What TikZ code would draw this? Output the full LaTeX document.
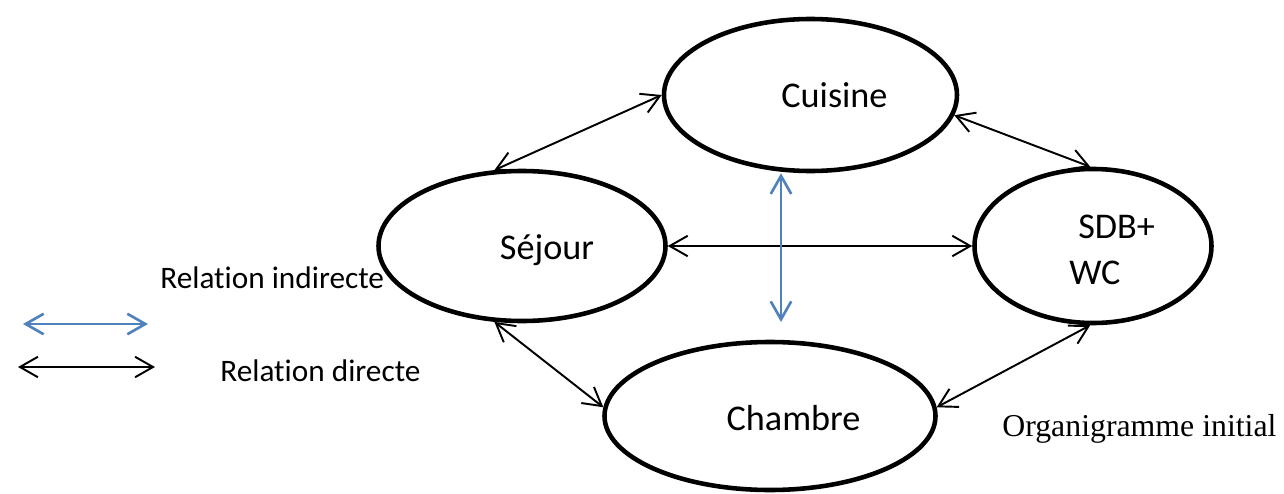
\documentclass[tikz,border=0pt]{standalone}
\usepackage{fontspec}
\setmainfont{Carlito}[RawFeature={-liga;-clig;-calt}]
\newfontfamily\capfont{Liberation Serif}
\usepackage{tikz}
\usetikzlibrary{shapes.geometric,arrows.meta}
\definecolor{ink}{HTML}{000000}
\definecolor{steel}{HTML}{4F81BD}
\tikzset{
  >={Straight Barb[length=3.6mm,width=4.1mm]},
  room/.style ={ellipse, draw=ink, line width=2.6pt, inner sep=0pt},
  rtxt/.style ={font=\fontsize{20.6}{25}\selectfont, inner sep=0pt, anchor=base},
  ltxt/.style ={font=\fontsize{17.8}{21}\selectfont, inner sep=0pt, anchor=base west},
  dir/.style  ={draw=ink,   line width=1.1pt, <->},
  ind/.style  ={draw=steel, line width=1.5pt, <->},
}

\begin{document}
\begin{tikzpicture}
    \useasboundingbox (0,0) rectangle (25.68,9.86);

    % pieces
    \node[room,minimum width=5.86cm,minimum height=3.04cm] (cui) at (16.21,7.96) {};
    \node[room,minimum width=5.74cm,minimum height=3.00cm] (sej) at (10.44,4.94) {};
    \node[room,minimum width=4.74cm,minimum height=3.08cm] (sdb) at (21.86,4.94) {};
    \node[room,minimum width=6.62cm,minimum height=2.96cm] (chb) at (15.40,1.54) {};

    \node[rtxt] (cui-t) at (16.69,7.72) {Cuisine};
    \node[rtxt] (sej-t) at (10.94,4.67) {Séjour};
    \node[rtxt] (chb-t) at (15.87,1.25) {Chambre};
    \node[rtxt,anchor=base west] (sdb-t) at (21.56,5.10) {SDB+};
    \node[rtxt,anchor=base west] (wc-t)  at (21.38,4.18) {WC};

    % liaisons
    \draw[dir] (sej.110) -- (cui.west);
    \draw[dir] (cui.-8) -- (sdb.92);
    \draw[dir] (sej.east) -- (sdb.west);
    \draw[dir] (sej.250) -- (chb.177);
    \draw[dir] (chb.3) -- (sdb.268);
    \coordinate (ind-end) at (15.62,3.42);
    \draw[ind] (cui.south -| ind-end) -- (ind-end);

    % legende
    \coordinate (li-a) at (0.46,3.38);
    \coordinate (li-b) at (2.96,3.38);
    \coordinate (ld-a) at (0.36,2.52);
    \coordinate (ld-b) at (3.10,2.52);
    \draw[ind] (li-a) -- (li-b);
    \draw[dir] (ld-a) -- (ld-b);
    \node[ltxt] (li-t) at (3.20,4.10) {Relation indirecte};
    \node[ltxt] (ld-t) at (4.40,2.23) {Relation directe};
    \node[ltxt,font=\capfont\fontsize{18.1}{21}\selectfont] (org-t) at (20.04,1.14) {Organigramme initial};
\end{tikzpicture}
\end{document}
